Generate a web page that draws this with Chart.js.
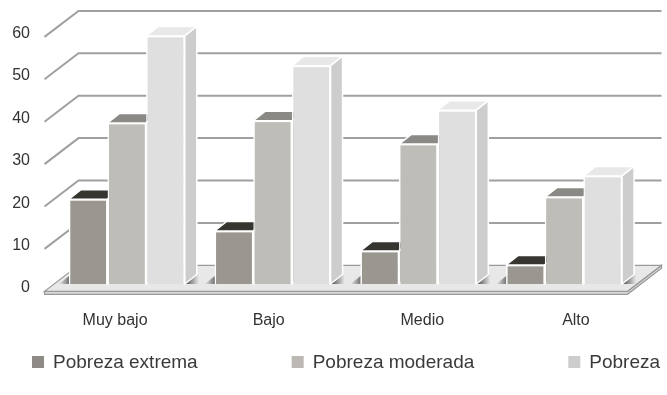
<!DOCTYPE html>
<html>
<head>
<meta charset="utf-8">
<title>Pobreza por nivel</title>
<script src="https://cdn.jsdelivr.net/npm/chart.js@4.4.0/dist/chart.umd.min.js"></script>
<style>
  html, body { margin: 0; padding: 0; background: #fff; }
  #chart { display: block; }
</style>
</head>
<body>
<canvas id="chart" width="667" height="395"></canvas>
<script>
// data
const categories = ["Muy bajo", "Bajo", "Medio", "Alto"];
const seriesNames = ["Pobreza extrema", "Pobreza moderada", "Pobreza"];
const extrema = [20, 12.5, 7.8, 4.5];
const moderada = [38, 38.5, 33, 20.5];
const pobreza = [58.5, 51.5, 41, 25.5];
const yTicks = [0, 10, 20, 30, 40, 50, 60];

// fake 3D: offsets from the bar plane to the front edge / back wall, and bar depth
const FRONT = { x: -9.5, y: 7.3 };
const BACK = { x: 24.5, y: -18.7 };
const DEPTH = { x: 12, y: -9.5 };
const LABEL_SPREAD = 1.054;
const FONT = "'Liberation Sans', Arial, sans-serif";

function poly(ctx, pts, fill) {
    ctx.beginPath();
    ctx.moveTo(pts[0][0], pts[0][1]);
    for (let i = 1; i < pts.length; i++) ctx.lineTo(pts[i][0], pts[i][1]);
    ctx.closePath();
    ctx.fillStyle = fill;
    ctx.fill();
    ctx.stroke();
}

const chart3d = {
    id: "chart3d",

    // walls, gridlines and floor go under the bars
    beforeDatasetsDraw(chart) {
        const { ctx, chartArea: a, scales: { y } } = chart;
        ctx.save();

        ctx.strokeStyle = "#a0a0a0";
        ctx.lineWidth = 2;
        yTicks.forEach(v => {
            if (v === 0) return;
            const py = y.getPixelForValue(v);
            ctx.beginPath();
            ctx.moveTo(a.left + FRONT.x, py + FRONT.y);
            ctx.lineTo(a.left + BACK.x, py + BACK.y);
            ctx.lineTo(a.right + BACK.x, py + BACK.y);
            ctx.stroke();
        });

        const y0 = y.getPixelForValue(0);
        const fl = a.left + FRONT.x, fr = a.right + FRONT.x, fy = y0 + FRONT.y;
        const bl = a.left + BACK.x, br = a.right + BACK.x, by = y0 + BACK.y;

        // floor slab and top
        ctx.lineWidth = 1.2;
        ctx.strokeStyle = "#9a9a9a";
        poly(ctx, [[fl, fy], [fr, fy], [br, by], [br, by + 3], [fr, fy + 3], [fl, fy + 3]], "#d8d8d8");
        poly(ctx, [[fl, fy], [fr, fy], [br, by], [bl, by]], "#e8e8e8");

        // shading on the floor beside each group
        const meta0 = chart.getDatasetMeta(0), metaN = chart.getDatasetMeta(chart.data.datasets.length - 1);
        categories.forEach((c, i) => {
            const first = meta0.data[i], last = metaN.data[i];
            const gl = first.x - first.width / 2, gr = last.x + last.width / 2;
            let g = ctx.createLinearGradient(gr, 0, gr + 14, 0);
            g.addColorStop(0, "rgba(40,40,40,0.85)");
            g.addColorStop(1, "rgba(40,40,40,0)");
            ctx.fillStyle = g;
            ctx.beginPath();
            ctx.moveTo(gr, y0);
            ctx.lineTo(gr + DEPTH.x, y0 + DEPTH.y);
            ctx.lineTo(gr + DEPTH.x + 14, y0 + DEPTH.y);
            ctx.lineTo(gr + 14, y0);
            ctx.closePath();
            ctx.fill();
            g = ctx.createLinearGradient(gl, 0, gl - 10, 0);
            g.addColorStop(0, "rgba(40,40,40,0.6)");
            g.addColorStop(1, "rgba(40,40,40,0)");
            ctx.fillStyle = g;
            ctx.beginPath();
            ctx.moveTo(gl + 2, y0);
            ctx.lineTo(gl + DEPTH.x, y0 + DEPTH.y);
            ctx.lineTo(gl - 10 + DEPTH.x, y0 + DEPTH.y);
            ctx.lineTo(gl - 10, y0);
            ctx.closePath();
            ctx.fill();
        });

        ctx.restore();
    },

    // redraw fronts in series order so each bar hides the side of the one before it
    afterDatasetsDraw(chart) {
        const { ctx } = chart;
        chart.data.datasets.forEach((ds, i) => {
            const meta = chart.getDatasetMeta(i);
            meta.data.forEach(bar => {
                bar.draw(ctx, chart.chartArea);
                const { x, y, base, width } = bar.getProps(["x", "y", "base", "width"], true);
                const l = x - width / 2, r = x + width / 2;
                ctx.save();
                ctx.strokeStyle = "#ffffff";
                ctx.lineWidth = 1.5;
                ctx.lineJoin = "round";
                poly(ctx, [[l, y], [r, y], [r + DEPTH.x, y + DEPTH.y], [l + DEPTH.x, y + DEPTH.y]], ds.topColor);
                poly(ctx, [[r, y], [r + DEPTH.x, y + DEPTH.y], [r + DEPTH.x, base + DEPTH.y], [r, base]], ds.sideColor);
                ctx.restore();
            });
        });
    },

    // axis labels on the front edge, then the legend
    afterDraw(chart) {
        const { ctx, chartArea: a, scales: { x, y } } = chart;
        const mid = (a.left + a.right) / 2;
        const y0 = y.getPixelForValue(0);
        ctx.save();
        ctx.fillStyle = "#333333";
        ctx.font = "16px " + FONT;
        ctx.textBaseline = "middle";

        ctx.textAlign = "right";
        y.ticks.forEach(t => {
            ctx.fillText(String(t.value), a.left - 24, y.getPixelForValue(t.value) + 4);
        });

        ctx.textAlign = "center";
        categories.forEach((c, i) => {
            const cx = x.getPixelForValue(i);
            ctx.fillText(c, mid + (cx - mid) * LABEL_SPREAD, y0 + 37);
        });

        ctx.font = "19px " + FONT;
        ctx.textAlign = "left";
        let lx = 32;
        const ly = 362;
        chart.data.datasets.forEach(ds => {
            ctx.fillStyle = ds.legendColor;
            ctx.fillRect(lx, ly - 6, 12, 12);
            ctx.fillStyle = "#3a3a3a";
            ctx.fillText(ds.label, lx + 21, ly + 1);
            lx += 21 + ctx.measureText(ds.label).width + 94;
        });
        ctx.restore();
    }
};

new Chart(document.getElementById("chart"), {
    type: "bar",
    data: {
        labels: categories,
        datasets: [
            { label: seriesNames[0], data: extrema, backgroundColor: "#9a9791", topColor: "#363530", sideColor: "#6f6d69", legendColor: "#8e8b86" },
            { label: seriesNames[1], data: moderada, backgroundColor: "#bfbdb8", topColor: "#8b8985", sideColor: "#a8a6a2", legendColor: "#bcb9b4" },
            { label: seriesNames[2], data: pobreza, backgroundColor: "#dfdfdf", topColor: "#e8e8e8", sideColor: "#cdcdcd", legendColor: "#cdcdcd" }
        ]
    },
    options: {
        responsive: false,
        animation: false,
        devicePixelRatio: 1,
        layout: { padding: { top: 29.6, left: 14, right: 30, bottom: 111 } },
        datasets: {
            bar: {
                borderColor: "#ffffff",
                borderWidth: 1.5,
                barPercentage: 1,
                categoryPercentage: 0.795
            }
        },
        plugins: {
            legend: { display: false },
            tooltip: { enabled: false }
        },
        scales: {
            x: { display: false },
            y: {
                min: 0,
                max: 60,
                afterFit: scale => { scale.width = 40; },
                border: { display: false },
                grid: { display: false, drawTicks: false },
                ticks: { stepSize: 10, display: false }
            }
        }
    },
    plugins: [chart3d]
});
</script>
</body>
</html>
